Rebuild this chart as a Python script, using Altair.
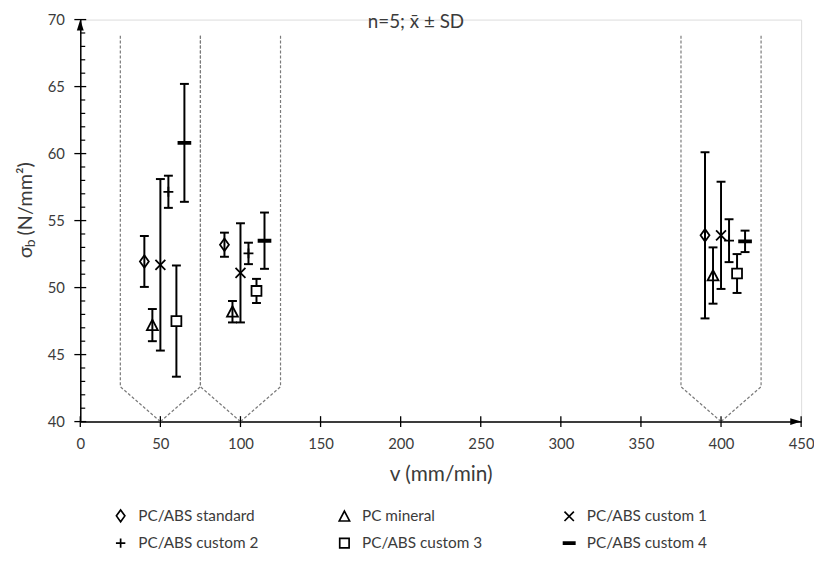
import altair as alt
import pandas as pd

# ---------------- data ----------------
series = ["PC/ABS standard", "PC mineral", "PC/ABS custom 1",
          "PC/ABS custom 2", "PC/ABS custom 3", "PC/ABS custom 4"]

# plotting positions (mm/min) of each series around the nominal speeds 50 / 100 / 400
v_std = [40, 90, 390]
v_min = [45, 95, 395]
v_c1 = [50, 100, 400]
v_c2 = [55, 105, 405]
v_c3 = [60, 110, 410]
v_c4 = [65, 115, 415]

mean_std = [51.95, 53.2, 53.9]
mean_min = [47.2, 48.2, 50.9]
mean_c1 = [51.7, 51.1, 53.9]
mean_c2 = [57.15, 52.55, 53.5]
mean_c3 = [47.5, 49.75, 51.05]
mean_c4 = [60.8, 53.5, 53.45]

sd_std = [1.9, 0.9, 6.2]
sd_min = [1.2, 0.8, 2.1]
sd_c1 = [6.4, 3.7, 4.0]
sd_c2 = [1.2, 0.8, 1.6]
sd_c3 = [4.15, 0.9, 1.45]
sd_c4 = [4.4, 2.1, 0.8]

# dashed guide shapes around the three speed groups
guide_centers = [50, 100, 400]
guide_half_width = 25
guide_top = 68.8
guide_shoulder = 42.6
guide_apex = 40

x_ticks = [0, 50, 100, 150, 200, 250, 300, 350, 400, 450]
y_ticks = [40, 45, 50, 55, 60, 65, 70]
y_minor = [v for v in range(41, 70) if v % 5 != 0]

chart_title = "n=5; x\u0304 \u00b1 SD"
x_title = "v (mm/min)"
y_title_main = "\u03c3"
y_title_sub = "b"
y_title_rest = "(N/mm\u00b2)"

# ---------------- tables ----------------
v_all = [v_std, v_min, v_c1, v_c2, v_c3, v_c4]
m_all = [mean_std, mean_min, mean_c1, mean_c2, mean_c3, mean_c4]
s_all = [sd_std, sd_min, sd_c1, sd_c2, sd_c3, sd_c4]
rows = []
for name, vs, ms, ss in zip(series, v_all, m_all, s_all):
    for v, m, s in zip(vs, ms, ss):
        rows.append({"series": name, "v": v, "mean": m, "lo": m - s, "hi": m + s})
df = pd.DataFrame(rows)
caps = pd.concat([df[["series", "v"]].assign(val=df["lo"]),
                  df[["series", "v"]].assign(val=df["hi"])])

guide_rows = []
for c in guide_centers:
    for side, sgn in (("L", -1), ("R", 1)):
        pts = [(c + sgn * guide_half_width, guide_top),
               (c + sgn * guide_half_width, guide_shoulder),
               (c, guide_apex)]
        for i, (gx, gy) in enumerate(pts):
            guide_rows.append({"g": f"{c}{side}", "i": i, "x": gx, "y": gy})
guides = pd.DataFrame(guide_rows)

FONT = "Lato"
TXT = "#3b3b3b"

xs = alt.Scale(domain=[0, 450], nice=False, zero=False)
ys = alt.Scale(domain=[40, 70], nice=False, zero=False)

shape_paths = [
    "M0,-1.25L0.9,0L0,1.25L-0.9,0Z",          # diamond
    "M0,-1.1L1.1,1L-1.1,1Z",                   # triangle
    "M-1,-1L1,1M-1,1L1,-1",                    # x
    "M-1,0L1,0M0,-1L0,1",                      # plus
    "M-1,-1L1,-1L1,1L-1,1Z",                   # square
    "M-1.2,-0.22L1.2,-0.22L1.2,0.22L-1.2,0.22Z"  # dash
]
fill_colors = ["transparent", "transparent", "transparent", "transparent", "white", "black"]
stroke_colors = ["black"] * 6

leg = alt.Legend(title=None, orient="none", legendX=33, legendY=493, direction="horizontal",
                 columns=3, gridAlign="each", columnPadding=78, rowPadding=9,
                 labelFont=FONT, labelFontSize=15.5, labelColor=TXT, labelOffset=10,
                 symbolStrokeWidth=1.7, symbolSize=90, labelLimit=300)

x_axis = alt.Axis(values=x_ticks, ticks=False, tickSize=0, grid=False, domainColor="black",
                  domainWidth=1.5, labelFont=FONT, labelFontSize=15, labelColor=TXT,
                  labelPadding=15, labelFlush=False, labelOverlap=False,
                  title=x_title, titleFont=FONT, titleFontSize=21, titleFontWeight="normal",
                  titleColor=TXT, titlePadding=12)
y_axis = alt.Axis(values=y_ticks, ticks=False, tickSize=0, grid=False, domainColor="black",
                  domainWidth=1.5, labelFont=FONT, labelFontSize=15, labelColor=TXT,
                  labelPadding=16, labelFlush=False, labelOverlap=False, title=None)

guide_layer = alt.Chart(guides).mark_line(color="#7a7a7a", strokeWidth=1.2, strokeDash=[3, 2]).encode(
    x=alt.X("x:Q", scale=xs, axis=x_axis),
    y=alt.Y("y:Q", scale=ys, axis=y_axis),
    detail="g:N",
    order="i:Q",
)

err_layer = alt.Chart(df).mark_rule(color="black", strokeWidth=2).encode(
    x=alt.X("v:Q", scale=xs), y=alt.Y("lo:Q", scale=ys), y2="hi:Q")

cap_layer = alt.Chart(caps).mark_tick(color="black", orient="horizontal", size=9, thickness=2,
                                      opacity=1).encode(
    x=alt.X("v:Q", scale=xs), y=alt.Y("val:Q", scale=ys))

point_layer = alt.Chart(df).mark_point(filled=True, strokeWidth=1.8, size=100,
                                       opacity=1).encode(
    x=alt.X("v:Q", scale=xs),
    y=alt.Y("mean:Q", scale=ys),
    shape=alt.Shape("series:N", scale=alt.Scale(domain=series, range=shape_paths), legend=leg),
    fill=alt.Fill("series:N", scale=alt.Scale(domain=series, range=fill_colors), legend=leg),
    stroke=alt.Stroke("series:N", scale=alt.Scale(domain=series, range=stroke_colors), legend=leg),
)

# axis tick marks (crossing) and minor ticks
ymaj = pd.DataFrame({"x": [0] * len(y_ticks), "y": y_ticks})
ymin = pd.DataFrame({"y": y_minor})
xmaj = pd.DataFrame({"x": x_ticks, "y": [40] * len(x_ticks)})

ymaj_layer = alt.Chart(ymaj).mark_tick(color="black", orient="horizontal", size=12, thickness=1.3,
                                       opacity=1).encode(
    x=alt.X("x:Q", scale=xs), y=alt.Y("y:Q", scale=ys))
ymin_layer = alt.Chart(ymin).mark_rule(color="black", strokeWidth=1.2).encode(
    x=alt.value(0), x2=alt.value(5), y=alt.Y("y:Q", scale=ys))
xmaj_layer = alt.Chart(xmaj).mark_tick(color="black", orient="vertical", size=11, thickness=1.3,
                                       opacity=1).encode(
    x=alt.X("x:Q", scale=xs), y=alt.Y("y:Q", scale=ys))

yarrow = alt.Chart(pd.DataFrame({"x": [0], "y": [70]})).mark_point(
    shape="M0,0L0.7,2.2L-0.7,2.2Z", filled=True, color="black", size=100, opacity=1).encode(
    x=alt.X("x:Q", scale=xs), y=alt.Y("y:Q", scale=ys))
xarrow = alt.Chart(pd.DataFrame({"x": [450], "y": [40]})).mark_point(
    shape="M0,0L-2.2,-0.7L-2.2,0.7Z", filled=True, color="black", size=100, opacity=1).encode(
    x=alt.X("x:Q", scale=xs), y=alt.Y("y:Q", scale=ys))

one = alt.Data(values=[{}])
title_layer = alt.Chart(one).mark_text(text=chart_title, font=FONT, fontSize=19, color=TXT,
                                       align="center", baseline="alphabetic").encode(
    x=alt.value(339), y=alt.value(8))
yt1 = alt.Chart(one).mark_text(text=y_title_main, font=FONT, fontSize=20, color=TXT, angle=270,
                               align="left", baseline="middle").encode(
    x=alt.value(-55), y=alt.value(241))
yt2 = alt.Chart(one).mark_text(text=y_title_sub, font=FONT, fontSize=14, color=TXT, angle=270,
                               align="left", baseline="middle", dy=5).encode(
    x=alt.value(-55), y=alt.value(230))
yt3 = alt.Chart(one).mark_text(text=y_title_rest, font=FONT, fontSize=20, color=TXT, angle=270,
                               align="left", baseline="middle").encode(
    x=alt.value(-55), y=alt.value(218))

chart = alt.layer(
    guide_layer, err_layer, cap_layer, point_layer,
    ymaj_layer, ymin_layer, xmaj_layer, yarrow, xarrow,
    title_layer, yt1, yt2, yt3,
).properties(
    width=728, height=406,
    autosize=alt.AutoSizeParams(type="none"),
    padding={"left": 73, "top": 9, "right": 13, "bottom": 129},
).configure_view(stroke=None).configure(background="white")

chart.save("out.html", embed_options={"renderer": "svg", "actions": False})
